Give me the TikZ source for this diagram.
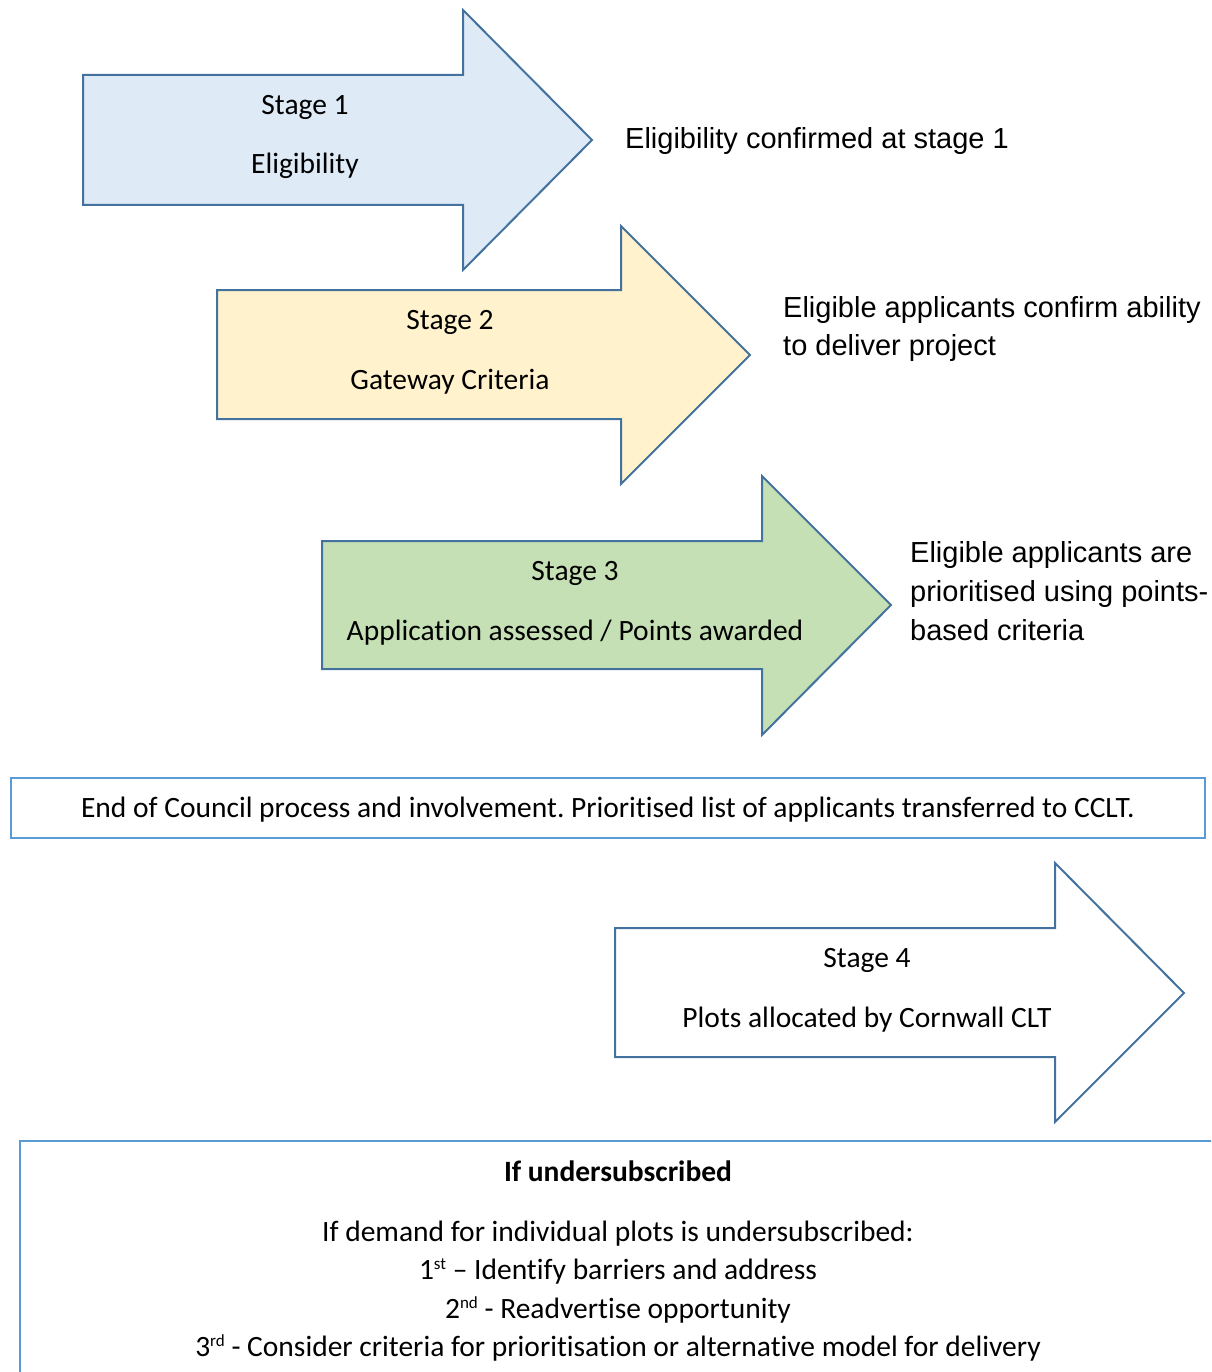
\documentclass[tikz,border=0pt]{standalone}
\usepackage{fontspec}
\setmainfont[Ligatures=NoCommon]{Carlito}
\newfontfamily\arialfont{Liberation Sans}
\frenchspacing
\definecolor{arrowline}{HTML}{44729F}
\definecolor{boxline}{HTML}{5B9BD5}
\definecolor{fillA}{HTML}{DEEAF6}
\definecolor{fillB}{HTML}{FFF2CC}
\definecolor{fillC}{HTML}{C5E0B4}
\newcommand{\supsm}[1]{\raisebox{0.33em}{\fontsize{17}{17}\selectfont #1}}
\tikzset{
  arrowshape/.style={draw=arrowline, line width=2pt, line join=miter},
  framebox/.style={draw=boxline, line width=2.5pt},
  calitext/.style={font=\fontsize{29.5}{35}\selectfont, inner sep=0pt, anchor=base},
  sidetext/.style={font=\arialfont\fontsize{29}{39}\selectfont, inner sep=0pt, anchor=base west},
}
\begin{document}
\begin{tikzpicture}[x=1pt, y=-1pt]
\useasboundingbox (0,0) rectangle (1211,1372);
\begin{scope}
\clip (0,0) rectangle (1211,1372);
% Stage 1 arrow
\draw[arrowshape, fill=fillA] (83,75) -- (463,75) -- (463,10) -- (592,140) -- (463,270) -- (463,205) -- (83,205) -- cycle;
% Stage 2 arrow
\draw[arrowshape, fill=fillB] (217,290) -- (621,290) -- (621,226) -- (750,355) -- (621,484) -- (621,419) -- (217,419) -- cycle;
% Stage 3 arrow
\draw[arrowshape, fill=fillC] (322,541) -- (762,541) -- (762,476) -- (891,605) -- (762,735) -- (762,669) -- (322,669) -- cycle;
% Stage 4 arrow
\draw[arrowshape, fill=white] (615,928) -- (1055,928) -- (1055,863) -- (1184,993) -- (1055,1122) -- (1055,1057) -- (615,1057) -- cycle;
% boxes
\draw[framebox] (11,778) rectangle (1205,838);
\draw[framebox] (20,1141) rectangle (1240,1420);
\end{scope}

\node[calitext] (s1a) at (305,115) {Stage 1};
\node[calitext] (s1b) at (305,174) {Eligibility};
\node[calitext] (s2a) at (450,329) {Stage 2};
\node[calitext] (s2b) at (450,389) {Gateway Criteria};
\node[calitext] (s3a) at (575,580) {Stage 3};
\node[calitext] (s3b) at (575,640) {Application assessed / Points awarded};
\node[calitext] (s4a) at (867,967) {Stage 4};
\node[calitext] (s4b) at (867,1027) {Plots allocated by Cornwall CLT};

\node[sidetext] (r1) at (625,149) {Eligibility confirmed at stage 1};
\node[sidetext] (r2a) at (783,317) {Eligible applicants confirm ability};
\node[sidetext] (r2b) at (783,355) {to deliver project};
\node[sidetext] (r3a) at (910,562) {Eligible applicants are};
\node[sidetext] (r3b) at (910,601) {prioritised using points-};
\node[sidetext] (r3c) at (910,640) {based criteria};

\node[calitext] (endtxt) at (608,817) {End of Council process and involvement. Prioritised list of applicants transferred to CCLT.};

\node[calitext] (u0) at (618,1181) {\textbf{If undersubscribed}};
\node[calitext] (u1) at (618,1241) {If demand for individual plots is undersubscribed:};
\node[calitext] (u2) at (618,1279) {1\supsm{st} – Identify barriers and address};
\node[calitext] (u3) at (618,1318) {2\supsm{nd} - Readvertise opportunity};
\node[calitext] (u4) at (618,1356) {3\supsm{rd} - Consider criteria for prioritisation or alternative model for delivery};
\end{tikzpicture}
\end{document}
